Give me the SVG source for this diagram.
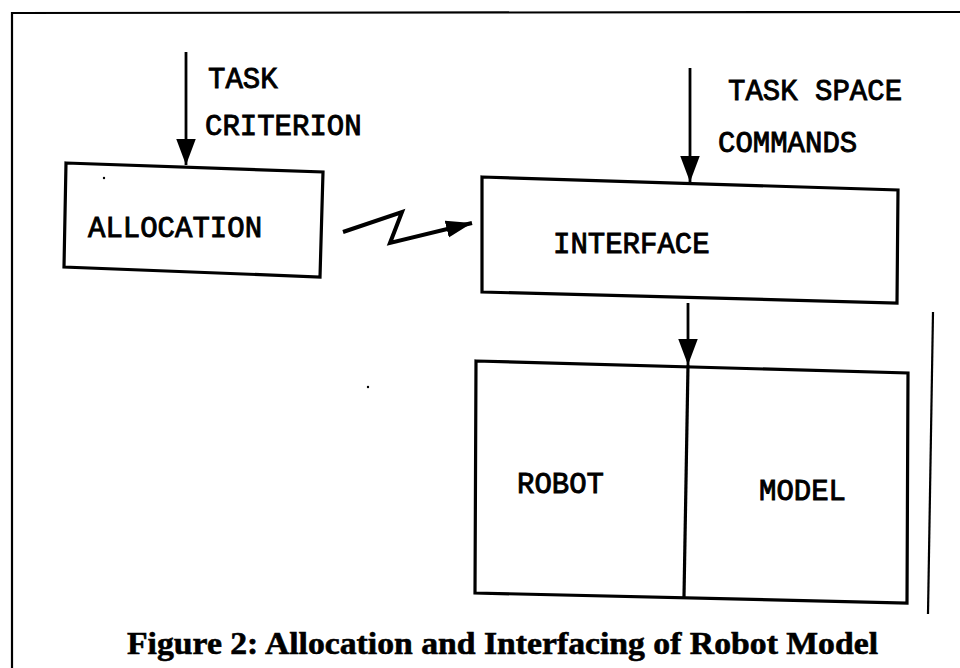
<svg xmlns="http://www.w3.org/2000/svg" width="960" height="668" viewBox="0 0 960 668">
<defs>
<style>
.box{fill:none;stroke:#000;stroke-width:3.2;stroke-linejoin:miter}
.lbl{font-family:"Liberation Mono","Courier New",monospace;font-size:29px;font-weight:normal;fill:#000;stroke:#000;stroke-width:0.9}
.edge{fill:none;stroke:#000;stroke-width:2.8}
.frame{fill:none;stroke:#000;stroke-width:2.2}
.cap{font-family:"Liberation Serif","Times New Roman",serif;font-size:32px;font-weight:bold;fill:#000;stroke:#000;stroke-width:0.6}
</style>
<marker id="ah" markerUnits="userSpaceOnUse" markerWidth="26" markerHeight="20" viewBox="0 0 24 18" refX="24" refY="9" orient="auto">
<path d="M0,0 L24,9 L0,18 Z" fill="#000"/>
</marker>
<marker id="ahz" markerUnits="userSpaceOnUse" markerWidth="26" markerHeight="18" viewBox="0 0 24 16" refX="24" refY="8" orient="auto">
<path d="M0,0 L24,8 L0,16 Z" fill="#000"/>
</marker>
</defs>
<rect width="960" height="668" fill="#fff"/>
<g id="frame">
<path class="frame" d="M12,668 L12,13 L960,12"/>
<path class="frame" d="M933,312 L928,614"/>
</g>
<g id="connectors">
<path class="edge" d="M186,52 L186,165" marker-end="url(#ah)"/>
<path class="edge" d="M690,68 L690,182" marker-end="url(#ah)"/>
<path class="edge" d="M688,303 L688,365" marker-end="url(#ah)"/>
<path class="edge" style="stroke-width:4;stroke-linejoin:miter" d="M343,232 L402,212 L390,243 L472,223" marker-end="url(#ahz)"/>
</g>
<g id="task-criterion">
<text class="lbl" x="208" y="88">TASK</text>
<text class="lbl" x="205" y="135">CRITERION</text>
</g>
<g id="task-space-commands">
<text class="lbl" x="728" y="100">TASK SPACE</text>
<text class="lbl" x="718" y="152">COMMANDS</text>
</g>
<g id="allocation">
<polygon class="box" points="66,163 323,172 320,277 64,267"/>
<text class="lbl" x="88" y="237">ALLOCATION</text>
</g>
<g id="interface">
<polygon class="box" points="482,177 898,190 897,303 482,292"/>
<text class="lbl" x="553" y="253">INTERFACE</text>
</g>
<g id="robot-model">
<polygon class="box" points="476,361 908,373 907,603 475,593"/>
<path class="box" d="M688,365 L684,597"/>
<text class="lbl" x="517" y="493">ROBOT</text>
<text class="lbl" x="759" y="500">MODEL</text>
</g>
<g id="specks">
<circle cx="104" cy="178" r="1.2" fill="#000"/>
<circle cx="368" cy="387" r="1.2" fill="#000"/>
</g>
<text class="cap" x="127" y="654" textLength="751" lengthAdjust="spacingAndGlyphs">Figure 2:  Allocation and Interfacing of Robot Model</text>
</svg>
